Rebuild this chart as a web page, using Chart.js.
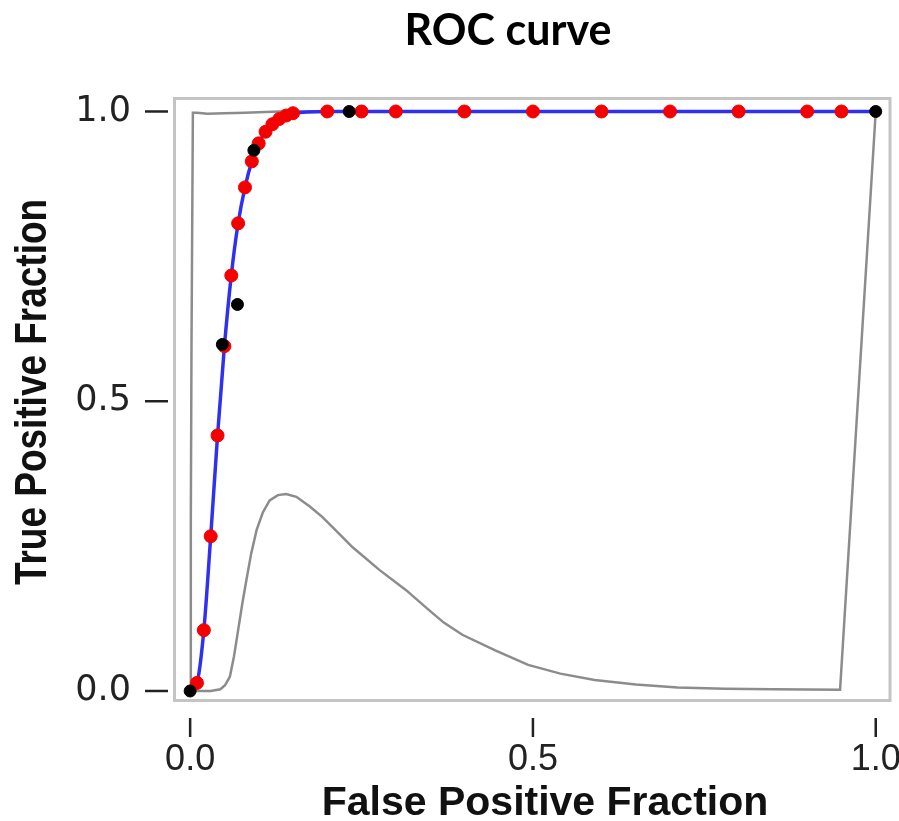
<!DOCTYPE html>
<html>
<head>
<meta charset="UTF-8">
<title>ROC curve</title>
<script src="https://cdn.jsdelivr.net/npm/chart.js"></script>
<style>
  body { margin: 0; padding: 0; background: #fff; }
  .chart-box { position: relative; width: 899px; height: 821px; }
</style>
</head>
<body>
<div class="chart-box"><canvas id="rocChart"></canvas></div>
<script>
// fitted ROC curve points (red dots, blue line)
var fitFpr = [0.01, 0.02, 0.03, 0.04, 0.05, 0.06, 0.07, 0.08, 0.09, 0.10, 0.11, 0.12, 0.13, 0.14, 0.15,
              0.20, 0.25, 0.30, 0.40, 0.50, 0.60, 0.70, 0.80, 0.90, 0.95];
var fitTpr = [0.014, 0.105, 0.267, 0.441, 0.595, 0.717, 0.807, 0.869, 0.914, 0.945, 0.965, 0.978, 0.987, 0.993, 0.997,
              1.0, 1.0, 1.0, 1.0, 1.0, 1.0, 1.0, 1.0, 1.0, 1.0];

// empirical points (black dots)
var obsFpr = [0, 0.047, 0.069, 0.093, 0.232, 1];
var obsTpr = [0, 0.598, 0.667, 0.933, 1.0, 1.0];

// confidence band (grey lines)
var upperFpr = [0, 0.001, 0.002, 0.004, 0.010, 0.025, 0.050, 0.080, 0.130, 1];
var upperTpr = [0, 0.30, 0.60, 0.998, 0.998, 0.996, 0.997, 0.998, 1.0, 1.0];
var lowerFpr = [0, 0.010, 0.030, 0.044, 0.051, 0.058, 0.064, 0.070, 0.076, 0.082, 0.089, 0.097, 0.106,
                0.116, 0.128, 0.140, 0.155, 0.175, 0.193, 0.215, 0.237, 0.276, 0.315, 0.348, 0.370,
                0.397, 0.445, 0.493, 0.540, 0.590, 0.650, 0.711, 0.780, 0.850, 0.948, 1];
var lowerTpr = [0, 0.0, 0.0, 0.003, 0.010, 0.025, 0.060, 0.105, 0.150, 0.191, 0.237, 0.278, 0.308,
                0.329, 0.338, 0.340, 0.335, 0.318, 0.300, 0.274, 0.248, 0.209, 0.174, 0.140, 0.118,
                0.097, 0.070, 0.045, 0.030, 0.019, 0.011, 0.006, 0.004, 0.003, 0.002, 1.0];

var tickValues = [0, 0.5, 1];

function toPoints(xs, ys) {
  return xs.map(function (x, i) { return { x: x, y: ys[i] }; });
}

var blueFpr = [0].concat(fitFpr, [1]);
var blueTpr = [0].concat(fitTpr, [1]);

// frame, tick marks and titles
var decorPlugin = {
  id: 'decor',
  beforeDatasetsDraw: function (chart) {
    var a = chart.chartArea, ctx = chart.ctx;
    ctx.save();
    ctx.strokeStyle = '#c4c4c4';
    ctx.lineWidth = 3;
    ctx.strokeRect(a.left + 1.5, a.top + 1.5, a.right - a.left - 3, a.bottom - a.top - 3);
    ctx.restore();
  },
  afterDraw: function (chart) {
    var a = chart.chartArea, ctx = chart.ctx;
    var xs = chart.scales.x, ys = chart.scales.y;
    ctx.save();
    ctx.strokeStyle = '#222';
    ctx.lineWidth = 2.5;
    tickValues.forEach(function (v) {
      var py = ys.getPixelForValue(v);
      ctx.beginPath();
      ctx.moveTo(a.left - 28, py);
      ctx.lineTo(a.left - 5, py);
      ctx.stroke();
      var px = xs.getPixelForValue(v);
      ctx.beginPath();
      ctx.moveTo(px, a.bottom + 16);
      ctx.lineTo(px, a.bottom + 35);
      ctx.stroke();
    });

    ctx.fillStyle = '#000';
    ctx.textAlign = 'center';
    ctx.textBaseline = 'alphabetic';
    ctx.font = 'bold 43px Lato';
    ctx.fillText('ROC curve', 508, 45);

    ctx.fillStyle = '#111';
    ctx.font = 'bold 41px "Liberation Sans"';
    ctx.fillText('False Positive Fraction', 545, 815);

    ctx.translate(46, 392);
    ctx.rotate(-Math.PI / 2);
    ctx.scale(0.84, 1);
    ctx.font = 'bold 44px "Liberation Sans"';
    ctx.fillText('True Positive Fraction', 0, 0);
    ctx.restore();
  }
};

var ctx = document.getElementById('rocChart').getContext('2d');
var rocChart = new Chart(ctx, {
  type: 'scatter',
  data: {
    datasets: [{
      label: 'observed',
      data: toPoints(obsFpr, obsTpr),
      backgroundColor: '#000',
      borderColor: '#000',
      pointRadius: 6,
      showLine: false,
      order: 0
    }, {
      label: 'fitted points',
      data: toPoints(fitFpr, fitTpr),
      backgroundColor: '#f50000',
      borderColor: '#f50000',
      pointRadius: 6.5,
      showLine: false,
      order: 1
    }, {
      label: 'fitted curve',
      data: toPoints(blueFpr, blueTpr),
      borderColor: '#3030f0',
      borderWidth: 3.5,
      pointRadius: 0,
      showLine: true,
      cubicInterpolationMode: 'monotone',
      order: 2
    }, {
      label: 'upper',
      data: toPoints(upperFpr, upperTpr),
      borderColor: '#8c8c8c',
      borderWidth: 2.5,
      pointRadius: 0,
      showLine: true,
      tension: 0,
      order: 3
    }, {
      label: 'lower',
      data: toPoints(lowerFpr, lowerTpr),
      borderColor: '#8c8c8c',
      borderWidth: 2.5,
      pointRadius: 0,
      showLine: true,
      tension: 0,
      order: 4
    }]
  },
  options: {
    responsive: true,
    maintainAspectRatio: false,
    animation: false,
    layout: { padding: { top: 97, right: 4, bottom: 0, left: 0 } },
    plugins: {
      legend: { display: false },
      tooltip: { enabled: false },
      title: { display: false }
    },
    scales: {
      x: {
        type: 'linear',
        min: -0.025,
        max: 1.023,
        grid: { display: false },
        border: { display: false },
        afterBuildTicks: function (s) { s.ticks = tickValues.map(function (v) { return { value: v }; }); },
        afterFit: function (s) { s.height = 119; s.paddingLeft = 0; s.paddingRight = 0; },
        ticks: {
          autoSkip: false,
          maxRotation: 0,
          padding: 28,
          color: '#222',
          font: { family: 'Liberation Sans', size: 36 },
          callback: function (v) { return Number(v).toFixed(1); }
        }
      },
      y: {
        type: 'linear',
        min: -0.019,
        max: 1.025,
        grid: { display: false },
        border: { display: false },
        afterBuildTicks: function (s) { s.ticks = tickValues.map(function (v) { return { value: v }; }); },
        afterFit: function (s) { s.width = 173; s.paddingTop = 0; s.paddingBottom = 0; },
        ticks: {
          autoSkip: false,
          padding: 34,
          color: '#222',
          font: { family: 'DejaVu Sans', size: 35 },
          callback: function (v) { return Number(v).toFixed(1); }
        }
      }
    }
  },
  plugins: [decorPlugin]
});
</script>
</body>
</html>
